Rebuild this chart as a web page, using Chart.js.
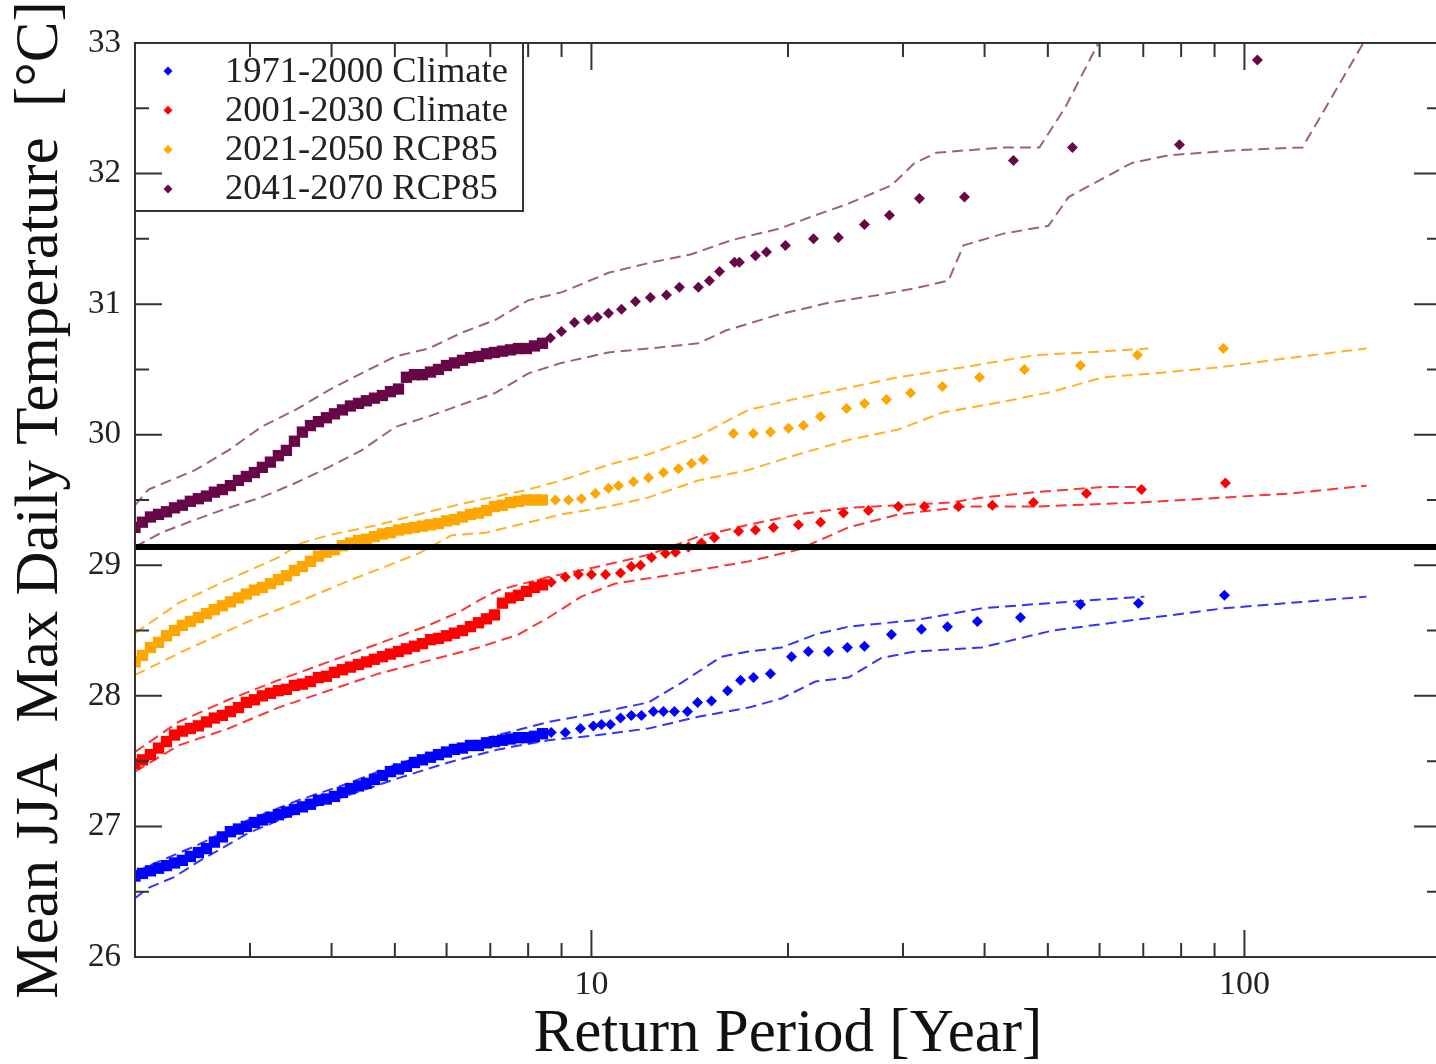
<!DOCTYPE html>
<html>
<head>
<meta charset="utf-8">
<script src="https://cdn.jsdelivr.net/npm/chart.js@4.4.1/dist/chart.umd.min.js"></script>
<style>
  html, body { margin: 0; padding: 0; background: #fff; overflow: hidden; }
  #wrap { position: absolute; left: 0; top: 0; width: 1450px; height: 1064px; }
</style>
</head>
<body>
<div id="wrap"><canvas id="grafica"></canvas></div>
<script>
// Return periods (years) of the dense part, shared by the four series
const denseT = [2.00, 2.053, 2.112, 2.173, 2.235, 2.299, 2.364, 2.431, 2.501, 2.573, 2.646, 2.722, 2.800, 2.880, 2.962,
  3.047, 3.134, 3.224, 3.316, 3.411, 3.509, 3.609, 3.713, 3.819, 3.928, 4.041, 4.156, 4.275, 4.398, 4.523, 4.653,
  4.786, 4.923, 5.064, 5.209, 5.358, 5.511, 5.669, 5.831, 5.998, 6.170, 6.346, 6.528, 6.715, 6.907, 7.104, 7.308,
  7.517, 7.732, 7.953, 8.181, 8.415];

// 1971-2000 Climate
const blueT = denseT.concat([8.68, 9.12, 9.62, 10.07, 10.36, 10.69, 11.08, 11.51, 11.93, 12.44, 12.89, 13.40, 14.03, 14.54,
  15.27, 16.16, 16.92, 17.71, 18.80, 20.25, 21.49, 23.07, 24.66, 26.19, 28.80, 32.02, 35.09, 39.00, 45.39, 56.09, 68.82, 93.2]);
const blueV = [26.62, 26.64, 26.66, 26.68, 26.70, 26.72, 26.74, 26.77, 26.80, 26.83, 26.88, 26.92, 26.96, 26.98, 27.00,
  27.03, 27.05, 27.07, 27.09, 27.11, 27.13, 27.15, 27.17, 27.20, 27.21, 27.23, 27.26, 27.29, 27.31, 27.33, 27.36,
  27.39, 27.42, 27.44, 27.46, 27.49, 27.51, 27.53, 27.55, 27.57, 27.59, 27.60, 27.62, 27.62, 27.64, 27.65, 27.66,
  27.67, 27.68, 27.68, 27.69, 27.71,
  27.72, 27.72, 27.75, 27.77, 27.78, 27.78, 27.83, 27.85, 27.85, 27.88, 27.88, 27.88, 27.88, 27.95, 27.96, 28.04,
  28.12, 28.14, 28.17, 28.30, 28.34, 28.34, 28.37, 28.38, 28.47, 28.51, 28.53, 28.57, 28.60, 28.70, 28.71, 28.77];
const blueUpT = [2.00, 2.173, 2.501, 2.984, 3.558, 4.245, 5.064, 6.040, 7.205, 8.594, 10.25, 12.23, 13.73, 15.82, 17.40,
  19.54, 22.03, 24.75, 31.35, 39.57, 50.10, 70.29];
const blueUpV = [26.65, 26.73, 26.86, 27.05, 27.20, 27.33, 27.48, 27.60, 27.70, 27.80, 27.87, 27.95, 28.10, 28.30, 28.34,
  28.37, 28.47, 28.53, 28.58, 28.67, 28.71, 28.76];
const blueLoT = [2.00, 2.097, 2.291, 2.501, 2.984, 3.558, 4.245, 5.064, 6.040, 7.205, 8.594, 10.25, 12.23, 14.58, 17.40,
  19.54, 22.03, 24.75, 27.80, 31.35, 39.57, 50.81, 92.86, 153.8];
const blueLoV = [26.45, 26.53, 26.61, 26.73, 26.95, 27.11, 27.24, 27.37, 27.49, 27.59, 27.66, 27.70, 27.75, 27.84, 27.91,
  27.98, 28.11, 28.14, 28.29, 28.34, 28.37, 28.50, 28.67, 28.76];

// 2001-2030 Climate
const redT = denseT.concat([8.68, 9.12, 9.55, 10.0, 10.51, 11.08, 11.51, 11.89, 12.36, 12.98, 13.45, 14.08, 14.74, 15.43,
  16.80, 17.83, 19.00, 20.75, 22.43, 24.32, 26.56, 29.52, 32.36, 36.48, 41.12, 47.52, 57.29, 69.55, 93.52]);
const redV = [27.48, 27.51, 27.55, 27.60, 27.65, 27.70, 27.73, 27.75, 27.77, 27.80, 27.83, 27.85, 27.88, 27.91, 27.95,
  27.97, 28.00, 28.02, 28.04, 28.05, 28.08, 28.09, 28.11, 28.14, 28.15, 28.18, 28.20, 28.22, 28.24, 28.26, 28.28,
  28.30, 28.32, 28.34, 28.36, 28.38, 28.40, 28.43, 28.44, 28.46, 28.48, 28.50, 28.53, 28.56, 28.59, 28.62, 28.71,
  28.75, 28.77, 28.80, 28.83, 28.85,
  28.87, 28.91, 28.93, 28.93, 28.93, 28.94, 28.99, 29.00, 29.06, 29.09, 29.10, 29.14, 29.17, 29.21, 29.26, 29.27,
  29.29, 29.31, 29.33, 29.40, 29.42, 29.45, 29.45, 29.45, 29.46, 29.48, 29.55, 29.58, 29.63];
const redUpT = [2.00, 2.331, 2.780, 3.316, 3.956, 4.719, 5.629, 6.257, 6.715, 7.205, 8.594, 10.25, 12.23, 14.58, 17.40,
  20.75, 24.75, 29.52, 35.34, 39.85, 47.86, 60.82, 70.29];
const redUpV = [27.57, 27.80, 27.97, 28.12, 28.26, 28.40, 28.54, 28.64, 28.73, 28.81, 28.91, 28.99, 29.08, 29.22, 29.31,
  29.39, 29.44, 29.46, 29.48, 29.52, 29.56, 29.60, 29.60];
const redLoT = [2.00, 2.331, 2.780, 3.316, 3.956, 4.719, 5.629, 6.715, 7.732, 8.594, 9.654, 10.88, 13.73, 17.40, 20.75,
  24.75, 29.52, 37.52, 47.86, 68.57, 93.52, 118.0, 153.8];
const redLoV = [27.42, 27.62, 27.75, 27.91, 28.04, 28.17, 28.27, 28.37, 28.47, 28.60, 28.76, 28.86, 28.94, 29.03, 29.12,
  29.29, 29.39, 29.45, 29.45, 29.48, 29.52, 29.55, 29.61];

// 2021-2050 RCP85
const orangeT = denseT.concat([8.808, 9.223, 9.654, 10.14, 10.62, 11.00, 11.60, 12.23, 12.89, 13.59, 14.23, 14.84, 16.50,
  17.70, 18.80, 20.03, 21.12, 22.43, 24.58, 26.19, 28.30, 30.81, 34.48, 39.29, 46.04, 56.09, 68.57, 92.86]);
const orangeV = [28.26, 28.31, 28.37, 28.41, 28.46, 28.50, 28.54, 28.57, 28.60, 28.63, 28.66, 28.69, 28.72, 28.75, 28.78,
  28.81, 28.83, 28.86, 28.89, 28.92, 28.96, 28.99, 29.03, 29.07, 29.10, 29.12, 29.15, 29.17, 29.19, 29.20, 29.22,
  29.24, 29.25, 29.27, 29.28, 29.29, 29.30, 29.31, 29.32, 29.34, 29.35, 29.37, 29.39, 29.40, 29.42, 29.45, 29.46,
  29.48, 29.49, 29.50, 29.50, 29.50,
  29.50, 29.50, 29.51, 29.55, 29.59, 29.61, 29.64, 29.67, 29.71, 29.74, 29.78, 29.81, 30.01, 30.01, 30.02, 30.05,
  30.07, 30.14, 30.20, 30.24, 30.27, 30.32, 30.37, 30.44, 30.50, 30.53, 30.61, 30.66];
const orangeUpT = [2.00, 2.331, 2.780, 3.316, 3.596, 3.956, 4.719, 5.629, 6.715, 8.010, 8.996, 10.62, 12.23, 14.58, 17.40,
  20.75, 24.75, 29.52, 37.52, 47.86, 57.29, 71.29];
const orangeUpV = [28.48, 28.71, 28.89, 29.06, 29.17, 29.23, 29.31, 29.41, 29.50, 29.58, 29.65, 29.77, 29.85, 29.99, 30.19,
  30.28, 30.36, 30.44, 30.52, 30.61, 30.63, 30.66];
const orangeLoT = [2.00, 2.389, 3.016, 3.596, 4.290, 4.837, 5.434, 6.104, 6.883, 7.732, 8.996, 10.62, 12.23, 14.58, 17.40,
  20.75, 24.75, 29.52, 34.48, 42.45, 50.81, 60.82, 72.81, 92.86, 118.0, 153.8];
const orangeLoV = [28.16, 28.35, 28.58, 28.73, 28.89, 28.99, 29.09, 29.23, 29.25, 29.31, 29.39, 29.45, 29.52, 29.65, 29.73,
  29.85, 29.96, 30.04, 30.17, 30.25, 30.33, 30.44, 30.47, 30.52, 30.59, 30.66];

// 2041-2070 RCP85
const purpleT = denseT.concat([8.655, 8.996, 9.418, 9.895, 10.21, 10.62, 11.12, 11.68, 12.31, 13.03, 13.64, 14.58, 15.16,
  15.71, 16.56, 16.85, 17.83, 18.54, 19.82, 21.88, 23.89, 26.19, 28.60, 31.79, 37.26, 44.29, 54.53, 79.52, 104.7]);
const purpleV = [29.29, 29.33, 29.37, 29.39, 29.41, 29.44, 29.46, 29.49, 29.51, 29.53, 29.56, 29.58, 29.61, 29.65, 29.68,
  29.71, 29.75, 29.79, 29.84, 29.88, 29.95, 30.02, 30.07, 30.10, 30.13, 30.16, 30.19, 30.22, 30.24, 30.26, 30.28,
  30.30, 30.33, 30.35, 30.44, 30.46, 30.46, 30.48, 30.50, 30.53, 30.55, 30.57, 30.59, 30.60, 30.62, 30.63, 30.64,
  30.65, 30.66, 30.66, 30.68, 30.70,
  30.74, 30.79, 30.86, 30.88, 30.90, 30.93, 30.96, 31.02, 31.05, 31.07, 31.13, 31.13, 31.18, 31.25, 31.32, 31.32,
  31.37, 31.40, 31.45, 31.50, 31.51, 31.61, 31.68, 31.81, 31.82, 32.10, 32.20, 32.22, 32.87];
const purpleUpT = [2.00, 2.097, 2.475, 2.780, 3.123, 3.521, 3.956, 4.445, 5.011, 5.629, 6.323, 7.129, 8.010, 8.996, 10.62,
  12.36, 14.18, 16.39, 19.47, 21.73, 24.75, 28.81, 31.24, 33.76, 42.76, 48.53, 53.20, 59.76, 61.9];
const purpleUpV = [29.46, 29.58, 29.73, 29.88, 30.06, 30.19, 30.34, 30.47, 30.60, 30.66, 30.78, 30.88, 31.03, 31.09, 31.24,
  31.32, 31.38, 31.49, 31.58, 31.67, 31.77, 31.91, 32.08, 32.16, 32.20, 32.20, 32.51, 33.00, 33.15];
const purpleLoT = [2.00, 2.195, 2.475, 2.780, 3.123, 3.521, 3.956, 4.445, 5.011, 5.629, 6.323, 7.129, 8.010, 8.996, 10.62,
  12.23, 14.58, 16.10, 19.34, 23.07, 27.51, 31.24, 35.22, 37.13, 42.76, 50.10, 53.77, 67.14, 76.49, 97.9, 122.7, 152.1, 156.0];
const purpleLoV = [29.14, 29.25, 29.35, 29.44, 29.52, 29.63, 29.75, 29.88, 30.06, 30.14, 30.23, 30.32, 30.47, 30.55, 30.63,
  30.66, 30.70, 30.80, 30.92, 31.01, 31.07, 31.12, 31.18, 31.45, 31.54, 31.60, 31.82, 32.08, 32.14, 32.18, 32.20, 33.00, 33.10];

// linea horizontal negra
const refT = [2, 200];
const refV = [29.14, 29.14];

const seriesNames = ['1971-2000 Climate', '2001-2030 Climate', '2021-2050 RCP85', '2041-2070 RCP85'];
const seriesColors = ['#0000ff', '#ff0000', '#ffa500', '#670748'];
const boundColors = ['rgba(0,0,255,0.8)', 'rgba(255,0,0,0.8)', 'rgba(255,165,0,0.85)', 'rgba(103,7,72,0.65)'];

const xTickLabels = [10, 100];
const xMinorTicks = [3, 4, 5, 6, 7, 8, 9, 20, 30, 40, 50, 60, 70, 80, 90];
const yTickLabels = [26, 27, 28, 29, 30, 31, 32, 33];
const yMinorTicks = [26.5, 27.5, 28.5, 29.5, 30.5, 31.5, 32.5];

const xTitle = 'Return Period [Year]';
const yTitle = 'Mean JJA  Max Daily Temperature  [°C]';

const pares = (xs, ys) => xs.map((x, i) => ({ x: x, y: ys[i] }));

const puntos = [[blueT, blueV], [redT, redV], [orangeT, orangeV], [purpleT, purpleV]];
const bandas = [
  [[blueUpT, blueUpV], [blueLoT, blueLoV]],
  [[redUpT, redUpV], [redLoT, redLoV]],
  [[orangeUpT, orangeUpV], [orangeLoT, orangeLoV]],
  [[purpleUpT, purpleUpV], [purpleLoT, purpleLoV]]
];

// en la zona densa los rombos se funden en una banda gruesa
const esDenso = c => c.dataIndex < denseT.length;

const datasets = [{
  label: 'ref', data: pares(refT, refV), showLine: true, borderColor: '#000', borderWidth: 6,
  pointRadius: 0, order: 0
}];
puntos.forEach((p, i) => {
  datasets.push({
    label: seriesNames[i], data: pares(p[0], p[1]), showLine: false,
    pointStyle: c => esDenso(c) ? 'rect' : 'rectRot',
    pointRadius: c => esDenso(c) ? 8 : 5.5,
    backgroundColor: seriesColors[i], borderColor: seriesColors[i], pointBorderWidth: 0, order: 1
  });
});
bandas.forEach((b, i) => {
  b.forEach(linea => {
    datasets.push({
      label: seriesNames[i] + ' bound', data: pares(linea[0], linea[1]), showLine: true,
      borderColor: boundColors[i], borderWidth: 2, borderDash: [11, 6], pointRadius: 0, order: 2
    });
  });
});

// marco, marcas hacia adentro y leyenda
const marco = {
  id: 'marco',
  afterDraw(chart) {
    const { ctx, chartArea: a, scales: { x, y } } = chart;
    ctx.save();
    ctx.strokeStyle = '#333';
    ctx.lineWidth = 2;
    ctx.strokeRect(a.left, a.top, a.right - a.left, a.bottom - a.top);
    ctx.beginPath();
    const xt = (v, len) => {
      const p = x.getPixelForValue(v);
      ctx.moveTo(p, a.bottom); ctx.lineTo(p, a.bottom - len);
      ctx.moveTo(p, a.top); ctx.lineTo(p, a.top + len);
    };
    const yt = (v, len) => {
      const p = y.getPixelForValue(v);
      ctx.moveTo(a.left, p); ctx.lineTo(a.left + len, p);
      ctx.moveTo(a.right, p); ctx.lineTo(a.right - len, p);
    };
    xTickLabels.forEach(v => xt(v, 27));
    xMinorTicks.forEach(v => xt(v, 14));
    yTickLabels.forEach(v => yt(v, 27));
    yMinorTicks.forEach(v => yt(v, 14));
    ctx.stroke();

    // leyenda
    ctx.strokeRect(a.left, a.top, 388, 168);
    ctx.font = '36.5px "Liberation Serif"';
    ctx.textBaseline = 'middle';
    ctx.textAlign = 'left';
    seriesNames.forEach((txt, i) => {
      const cy = a.top + 28 + i * 39.3;
      const cx = a.left + 33;
      ctx.fillStyle = seriesColors[i];
      ctx.beginPath();
      ctx.moveTo(cx, cy - 4.5); ctx.lineTo(cx + 4.5, cy); ctx.lineTo(cx, cy + 4.5); ctx.lineTo(cx - 4.5, cy);
      ctx.closePath();
      ctx.fill();
      ctx.fillStyle = '#222';
      ctx.fillText(txt, a.left + 90, cy + 1);
    });
    ctx.restore();
  }
};

const serif = 'Liberation Serif';
new Chart(document.getElementById('grafica'), {
  type: 'scatter',
  data: { datasets: datasets },
  options: {
    responsive: true,
    maintainAspectRatio: false,
    animation: false,
    devicePixelRatio: 1,
    layout: { padding: { top: 43, right: 9, left: 0, bottom: 0 } },
    plugins: { legend: { display: false }, tooltip: { enabled: false } },
    scales: {
      x: {
        type: 'logarithmic', min: 2, max: 200, position: 'bottom',
        grid: { display: false, drawTicks: false }, border: { display: false },
        afterBuildTicks: s => { s.ticks = xTickLabels.map(v => ({ value: v })); },
        ticks: { autoSkip: false, maxRotation: 0, padding: 8, color: '#222',
          font: { family: serif, size: 34 }, callback: v => String(v) },
        title: { display: true, text: xTitle, color: '#111', font: { family: serif, size: 61 },
          padding: { top: 0, bottom: -8 } },
        afterFit: s => { s.height = 107; }
      },
      y: {
        min: 26, max: 33,
        grid: { display: false, drawTicks: false }, border: { display: false },
        afterBuildTicks: s => { s.ticks = yTickLabels.map(v => ({ value: v })); },
        ticks: { padding: 14, color: '#222', font: { family: serif, size: 33 }, callback: v => String(v) },
        title: { display: true, text: yTitle, color: '#111', font: { family: serif, size: 61 },
          padding: { top: 4, bottom: 0 } },
        afterFit: s => { s.width = 135; }
      }
    }
  },
  plugins: [marco]
});
</script>
</body>
</html>
